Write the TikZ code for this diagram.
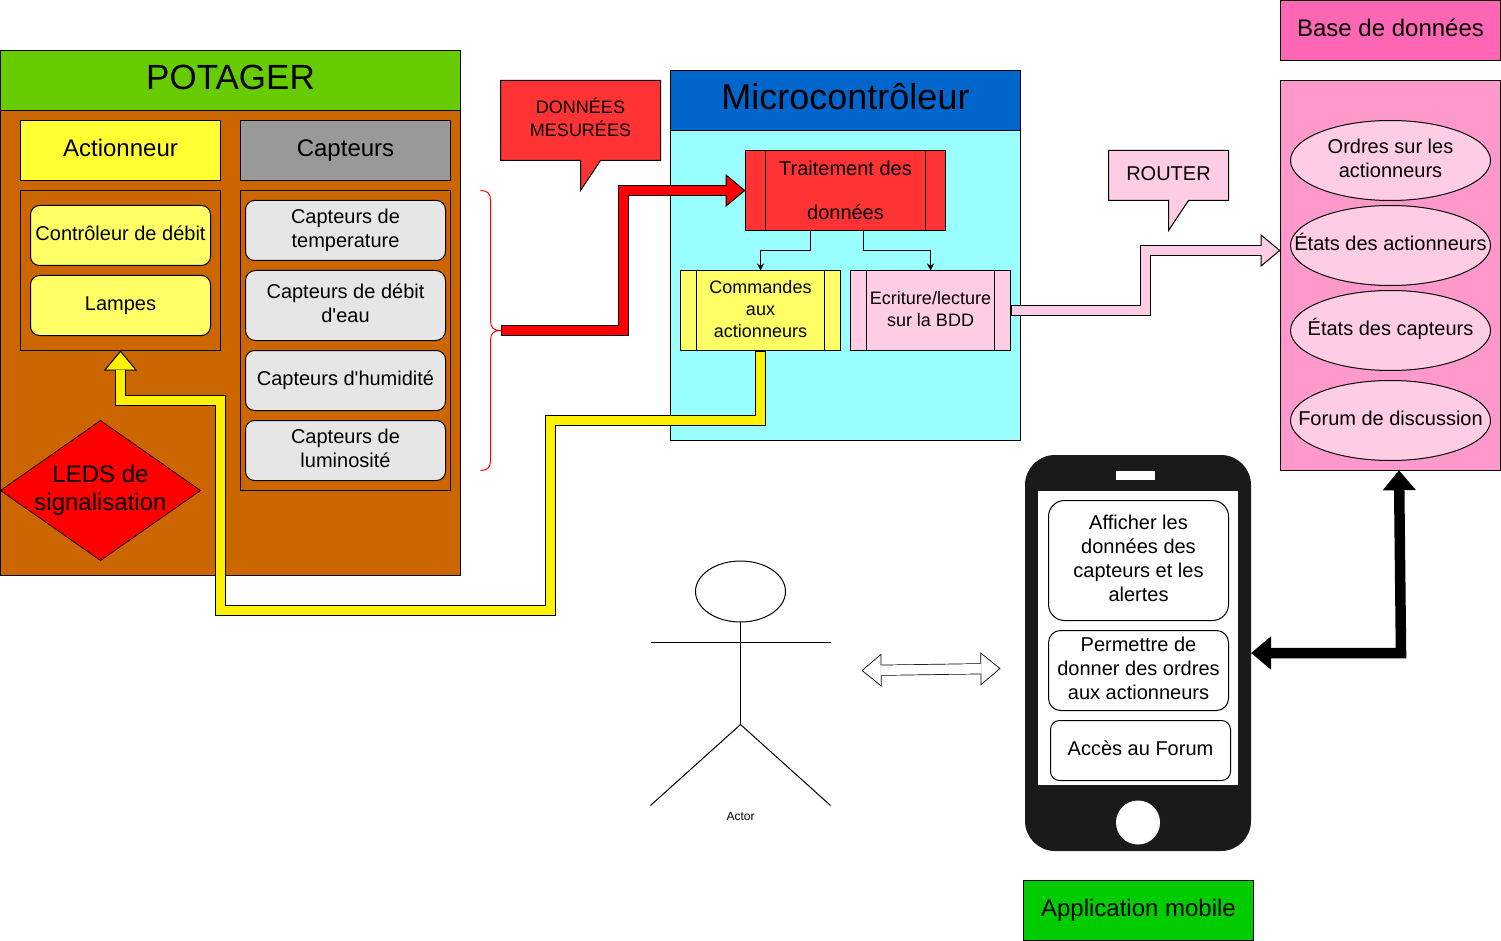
\documentclass[tikz,border=0pt]{standalone}
\usepackage{fontspec}
\setmainfont{Liberation Sans}
\usetikzlibrary{shapes.geometric, arrows.meta}
\definecolor{potgreen}{HTML}{66CC00}
\definecolor{potbrown}{HTML}{CC6600}
\definecolor{hdryellow}{HTML}{FFFF33}
\definecolor{lightyellow}{HTML}{FFFF66}
\definecolor{hdrgrey}{HTML}{999999}
\definecolor{lightgrey}{HTML}{E6E6E6}
\definecolor{softred}{HTML}{FF3333}
\definecolor{microblue}{HTML}{0066CC}
\definecolor{microcyan}{HTML}{99FFFF}
\definecolor{softpink}{HTML}{FFCCE6}
\definecolor{midpink}{HTML}{FF99CC}
\definecolor{hotpink}{HTML}{FF66B3}
\definecolor{appgreen}{HTML}{00CC00}
\definecolor{phoneblack}{HTML}{1A1A1A}
\newcommand{\tstrut}{\rule[-.295\baselineskip]{0pt}{\baselineskip}}
\newcommand{\fontA}{\fontsize{36}{43}\selectfont}
\newcommand{\fontB}{\fontsize{24}{28}\selectfont}
\newcommand{\fontC}{\fontsize{20}{24}\selectfont}
\newcommand{\fontD}{\fontsize{18}{22}\selectfont}
\tikzstyle{txt} = [align=center, text=black, inner sep=0pt, execute at begin node=\tstrut, execute at end node=\tstrut]
\tikzstyle{box} = [rectangle, draw=black, line width=1pt, inner sep=0pt, outer sep=0pt, txt]
\tikzstyle{title} = [box, font=\fontB, minimum height=60pt]
\tikzstyle{bigtitle} = [box, font=\fontA, minimum height=60pt]
\tikzstyle{frame} = [box, minimum width=200pt]
\tikzstyle{item} = [box, rounded corners=9pt, font=\fontC, minimum width=200pt, minimum height=60pt, fill=lightgrey]
\tikzstyle{actitem} = [item, minimum width=180pt, fill=lightyellow]
\tikzstyle{phoneitem} = [item, minimum width=180pt, fill=white]
\tikzstyle{process} = [box, font=\fontD, minimum width=160pt, minimum height=80pt]
\tikzstyle{dbell} = [ellipse, draw=black, line width=1pt, fill=softpink, inner sep=0pt, outer sep=0pt, minimum width=200pt, minimum height=80pt]
\tikzstyle{dbtxt} = [txt, font=\fontC]
\tikzstyle{arrow} = [line width=1pt,-{Stealth[length=7pt,width=7pt]}]
\tikzstyle{flexarrow}[red] = [line width=11pt, -{Triangle[length=20pt,width=33pt,line width=1pt,fill=#1,color=black]}, postaction={draw=#1, line width=9pt, -, shorten <=1pt, shorten >=19pt}]
\tikzstyle{flexboth} = [line width=11pt, {Triangle[length=20pt,width=33pt,line width=.7pt,fill=white,color=black]}-{Triangle[length=20pt,width=33pt,line width=.7pt,fill=white,color=black]}, postaction={draw=white, line width=9.6pt, -, shorten <=19pt, shorten >=19pt}]
\tikzstyle{blackarrow} = [line width=10.5pt, {Triangle[length=20pt,width=32pt]}-{Triangle[length=20pt,width=32pt]}]

\begin{document}
\begin{tikzpicture}[x=1pt, y=-1pt, shift={(.5,.5)}, node distance=70pt]
\useasboundingbox (-.5,-.5) rectangle (1500.5,940.5);

% potager
\node (potager) [bigtitle, font=\fontsize{35}{43}\selectfont, fill=potgreen, minimum width=460pt] at (230,80) {POTAGER};
\node (potbody) [box, fill=potbrown, minimum width=460pt, minimum height=465pt, below of=potager, yshift=-192.5pt] {};
\node (actionneur) [title, fill=hdryellow, minimum width=200pt, below of=potager, xshift=-110pt] {Actionneur};
\node (capteurs) [title, fill=hdrgrey, minimum width=210pt, right of=actionneur, xshift=155pt] {Capteurs};
\node (actframe) [frame, minimum height=160pt, below of=actionneur, yshift=-50pt] {};
\node (capframe) [frame, minimum width=210pt, minimum height=300pt, below of=capteurs, yshift=-120pt] {};
\node (debit) [actitem, below of=actionneur, yshift=-15pt] {Contrôleur de débit};
\node (lampes) [actitem, below of=debit] {Lampes};
\node (temp) [item, below of=capteurs, yshift=-10pt] {\tstrut Capteurs de\\temperature};
\node (debiteau) [item, minimum height=70pt, rounded corners=10pt, below of=temp, yshift=-5pt] {\tstrut Capteurs de débit\\d\textquotesingle eau};
\node (humid) [item, below of=debiteau, yshift=-5pt] {Capteurs d\textquotesingle humidité};
\node (lum) [item, below of=humid] {\tstrut Capteurs de\\luminosité};
\node (leds) [diamond, draw=black, line width=.7pt, fill=red, inner sep=0pt, outer sep=0pt, minimum width=200pt, minimum height=140pt, below of=lampes, xshift=-20pt, yshift=-115pt] {};
\node (ledstxt) [txt, font=\fontB] at (leds) {\tstrut LEDS de\\signalisation};

% microcontroleur
\node (microbody) [box, fill=microcyan, minimum width=350pt, minimum height=310pt] at (845,285) {};
\node (micro) [bigtitle, fill=microblue, minimum width=350pt, above of=microbody, yshift=115pt] {Microcontrôleur};
\node (trait) [process, font=\fontsize{20}{22}\selectfont, fill=softred, minimum width=200pt, below of=micro, yshift=-20pt] {\rule{0pt}{19.5pt}Traitement des\\ \\données};
\node (cmd) [process, fill=lightyellow, below of=trait, xshift=-85pt, yshift=-50pt] {\tstrut Commandes\\aux\\actionneurs};
\node (ecr) [process, fill=softpink, right of=cmd, xshift=100pt] {\tstrut Ecriture/lecture\\sur la BDD};
\draw [line width=1pt] ([xshift=20pt]trait.north west) -- ([xshift=20pt]trait.south west);
\draw [line width=1pt] ([xshift=-20pt]trait.north east) -- ([xshift=-20pt]trait.south east);
\draw [line width=1pt] ([xshift=16pt]cmd.north west) -- ([xshift=16pt]cmd.south west);
\draw [line width=1pt] ([xshift=-16pt]cmd.north east) -- ([xshift=-16pt]cmd.south east);
\draw [line width=1pt] ([xshift=16pt]ecr.north west) -- ([xshift=16pt]ecr.south west);
\draw [line width=1pt] ([xshift=-16pt]ecr.north east) -- ([xshift=-16pt]ecr.south east);
\draw [arrow] ([xshift=-35pt]trait.south) -- ++(0,20) -| (cmd.north);
\draw [arrow] ([xshift=18pt]trait.south) -- ++(0,20) -| (ecr.north);

% bulles
\draw [line width=1pt, fill=softred] (500,80) -- (660,80) -- (660,160) -- (600,160) -- (580,190) -- (580,160) -- (500,160) -- cycle;
\node (mesures) [txt, font=\fontD] at (580,120) {\tstrut DONNÉES\\MESURÉES};
\draw [line width=1pt, fill=softpink] (1108,150) -- (1228,150) -- (1228,200) -- (1188,200) -- (1168,230) -- (1168,200) -- (1108,200) -- cycle;
\node (router) [txt, font=\fontC] at (1168,175) {ROUTER};

% accolade
\draw [red, line width=1pt] (480,190) .. controls (487,190) and (490,193) .. (490,200) -- (490,320) .. controls (490,327) and (493,330) .. (500,330) .. controls (493,330) and (490,333) .. (490,340) -- (490,460) .. controls (490,467) and (487,470) .. (480,470);

% base de donnees
\node (basetitle) [title, fill=hotpink, minimum width=220pt] at (1390,30) {Base de données};
\node (bdd) [cylinder, shape border rotate=90, shape aspect=7.33, draw=black, line width=1pt, fill=midpink, inner sep=0pt, outer sep=0pt, minimum width=220pt, minimum height=390pt, below of=basetitle, yshift=-175pt] {};
\node (ordres) [dbell, below of=basetitle, yshift=-60pt, label={[dbtxt]center:\tstrut Ordres sur les\\actionneurs}] {};
\node (etatsa) [dbell, below of=ordres, yshift=-15pt, label={[dbtxt]center:États des actionneurs}] {};
\node (etatsc) [dbell, below of=etatsa, yshift=-15pt, label={[dbtxt]center:États des capteurs}] {};
\node (forum) [dbell, below of=etatsc, yshift=-20pt, label={[dbtxt]center:Forum de discussion}] {};
\coordinate (bddin) at (1280,250);

% telephone
\node (phone) [rectangle, rounded corners=30pt, fill=phoneblack, inner sep=0pt, outer sep=0pt, minimum width=226pt, minimum height=396pt] at (1137.5,652.5) {};
\node (screen) [rectangle, fill=white, inner sep=0pt, minimum width=200pt, minimum height=294pt] at (1137.5,637.5) {};
\node (speaker) [rectangle, fill=white, inner sep=0pt, minimum width=39pt, minimum height=9pt] at (1135,475) {};
\node (homebtn) [circle, fill=white, inner sep=0pt, minimum size=44pt] at (1137.5,822) {};
\node (afficher) [phoneitem, rounded corners=16pt, minimum height=120pt] at (1138,560) {\tstrut Afficher les\\données des\\capteurs et les\\alertes};
\node (ordrestel) [phoneitem, rounded corners=12pt, minimum height=80pt, below of=afficher, yshift=-40pt] {\tstrut Permettre de\\donner des ordres\\aux actionneurs};
\node (acces) [phoneitem, below of=ordrestel, xshift=2pt, yshift=-10pt] {Accès au Forum};
\node (mobile) [title, fill=appgreen, minimum width=230pt] at (1138,910) {Application mobile};

% acteur
\node (head) [ellipse, draw=black, line width=1pt, inner sep=0pt, outer sep=0pt, minimum width=90pt, minimum height=61pt] at (740,591) {};
\coordinate (hip) at (740,724);
\coordinate (lhand) at (650,642);
\coordinate (rhand) at (830,642);
\coordinate (lfoot) at (650,805);
\coordinate (rfoot) at (830,805);
\node (actor) [txt, font=\fontsize{12}{14}\selectfont] at (740,817) {Actor};
\draw [line width=1pt] (head.south) -- (hip);
\draw [line width=1pt] (lhand) -- (rhand);
\draw [line width=1pt] (lfoot) -- (hip) -- (rfoot);

% liaisons
\coordinate (redstart) at (500,330);
\coordinate (userleft) at (861,670);
\coordinate (userright) at (1000,668);
\draw [flexarrow=red] (redstart) -- ++(123,0) |- (trait.west);
\draw [flexarrow=yellow] (cmd.south) -- ++(0,70) -- ++(-210,0) -- ++(0,190) -- ++(-330,0) -- ++(0,-210) -- ++(-100,0) -- (actframe.south);
\draw [flexarrow=softpink] (ecr.east) -- ++(135,0) |- (bddin);
\draw [flexboth] (userleft) -- (userright);
\draw [blackarrow] (phone.east) -- ++(150,0) -- ([xshift=8.5pt]bdd.south);
\end{tikzpicture}
\end{document}
